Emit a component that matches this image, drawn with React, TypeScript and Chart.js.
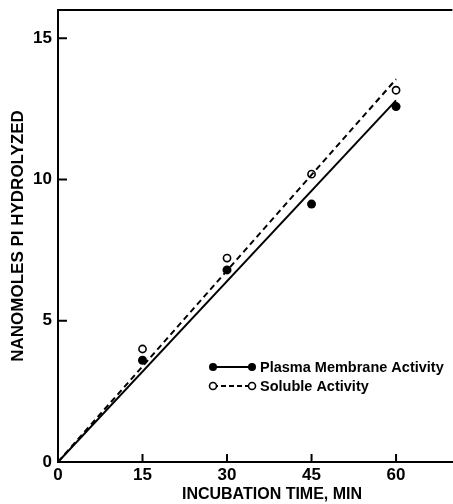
import React, { useEffect, useRef } from "react";
import { Chart, registerables } from "chart.js";

Chart.register(...registerables);

// ---- data ----
const times = [15, 30, 45, 60];
const plasmaValues = [3.6, 6.8, 9.13, 12.58];
const solubleValues = [4.0, 7.22, 10.19, 13.16];
const fitTimes = [0, 60];
const plasmaFit = [0, 12.8];
const solubleFit = [0, 13.55];
const xTickValues = [0, 15, 30, 45, 60];
const yTickValues = [0, 5, 10, 15];
const legendLabels = ["Plasma Membrane Activity", "Soluble Activity"];
const xTitle = "INCUBATION TIME, MIN";
const yTitle = "NANOMOLES PI HYDROLYZED";

const FONT = "'Liberation Sans', Arial, sans-serif";

const framePlugin = {
  id: "frame",
  afterDraw(chart: any) {
    const { ctx, chartArea, scales } = chart;
    const xs = scales.x;
    const ys = scales.y;
    ctx.save();
    ctx.strokeStyle = "#000";
    ctx.lineWidth = 2;
    // top border
    ctx.beginPath();
    ctx.moveTo(chartArea.left, chartArea.top);
    ctx.lineTo(chartArea.right, chartArea.top);
    ctx.stroke();
    // inward ticks
    xTickValues.forEach((v) => {
      if (v === 0) return;
      const px = xs.getPixelForValue(v);
      ctx.beginPath();
      ctx.moveTo(px, chartArea.bottom);
      ctx.lineTo(px, chartArea.bottom - 8);
      ctx.stroke();
    });
    yTickValues.forEach((v) => {
      if (v === 0) return;
      const py = ys.getPixelForValue(v);
      ctx.beginPath();
      ctx.moveTo(chartArea.left, py);
      ctx.lineTo(chartArea.left + 9, py);
      ctx.stroke();
    });

    // x axis title (slightly right of the plot centre, as in the source)
    ctx.fillStyle = "#000";
    ctx.font = `bold 16px ${FONT}`;
    ctx.textAlign = "center";
    ctx.textBaseline = "middle";
    ctx.fillText(xTitle, 272, 495);

    // legend
    const lx0 = 213;
    const lx1 = 252;
    const rows = [367, 386];
    ctx.font = `bold 14.5px ${FONT}`;
    ctx.textAlign = "left";
    rows.forEach((y, i) => {
      ctx.beginPath();
      ctx.lineWidth = 2;
      ctx.setLineDash(i === 0 ? [] : [5, 3]);
      ctx.moveTo(lx0, y);
      ctx.lineTo(lx1, y);
      ctx.stroke();
      ctx.setLineDash([]);
      [lx0, lx1].forEach((cx) => {
        ctx.beginPath();
        ctx.arc(cx, y, i === 0 ? 4 : 3.5, 0, Math.PI * 2);
        if (i === 0) {
          ctx.fillStyle = "#000";
          ctx.fill();
        } else {
          ctx.fillStyle = "#fff";
          ctx.fill();
          ctx.lineWidth = 1.6;
          ctx.stroke();
        }
      });
      ctx.fillStyle = "#000";
      ctx.fillText(legendLabels[i], 260, y + 1);
    });
    ctx.restore();
  },
};

export default function App() {
  const ref = useRef<HTMLCanvasElement | null>(null);

  useEffect(() => {
    document.body.style.margin = "0";
    document.body.style.overflow = "hidden";
    if (!ref.current) return;
    const chart = new Chart(ref.current, {
      type: "scatter",
      data: {
        datasets: [
          {
            type: "line",
            data: fitTimes.map((t, i) => ({ x: t, y: solubleFit[i] })),
            borderColor: "#000",
            borderWidth: 2,
            borderDash: [6, 4],
            pointRadius: 0,
            fill: false,
          },
          {
            type: "line",
            data: fitTimes.map((t, i) => ({ x: t, y: plasmaFit[i] })),
            borderColor: "#000",
            borderWidth: 2,
            pointRadius: 0,
            fill: false,
          },
          {
            data: times.map((t, i) => ({ x: t, y: solubleValues[i] })),
            pointRadius: 3.6,
            pointBackgroundColor: "#fff",
            pointBorderColor: "#000",
            pointBorderWidth: 1.6,
          },
          {
            data: times.map((t, i) => ({ x: t, y: plasmaValues[i] })),
            pointRadius: 4.5,
            pointBackgroundColor: "#000",
            pointBorderColor: "#000",
            pointBorderWidth: 0,
          },
        ],
      } as any,
      options: {
        animation: false,
        responsive: true,
        maintainAspectRatio: false,
        layout: { padding: { top: 10, right: 0, left: 0, bottom: 0 } },
        plugins: { legend: { display: false }, tooltip: { enabled: false } },
        scales: {
          x: {
            type: "linear",
            min: 0,
            max: 70,
            afterBuildTicks: (s: any) => {
              s.ticks = xTickValues.map((v) => ({ value: v }));
            },
            afterFit: (s: any) => {
              s.height = 42;
              s.paddingLeft = 0;
              s.paddingRight = 0;
            },
            grid: { display: false, drawTicks: false },
            border: { display: true, color: "#000", width: 2 },
            ticks: {
              color: "#000",
              padding: 3,
              font: { family: FONT, size: 17, weight: "bold" },
            },
            title: { display: false, text: xTitle },
          },
          y: {
            type: "linear",
            min: 0,
            max: 16,
            afterBuildTicks: (s: any) => {
              s.ticks = yTickValues.map((v) => ({ value: v }));
            },
            afterFit: (s: any) => {
              s.width = 58;
              s.paddingTop = 0;
              s.paddingBottom = 0;
            },
            grid: { display: false, drawTicks: false },
            border: { display: true, color: "#000", width: 2 },
            ticks: {
              color: "#000",
              padding: 6,
              font: { family: FONT, size: 17, weight: "bold" },
            },
            title: {
              display: true,
              text: yTitle,
              color: "#000",
              padding: { top: 8, bottom: 0 },
              font: { family: FONT, size: 17, weight: "bold" },
            },
          },
        },
      } as any,
      plugins: [framePlugin],
    });
    return () => chart.destroy();
  }, []);

  return (
    <div
      style={{
        position: "absolute",
        left: 0,
        top: 0,
        width: 453,
        height: 504,
        overflow: "hidden",
        background: "#fff",
      }}
    >
      <div style={{ position: "relative", width: 458, height: 504 }}>
        <canvas ref={ref} style={{ display: "block" }} />
      </div>
    </div>
  );
}
